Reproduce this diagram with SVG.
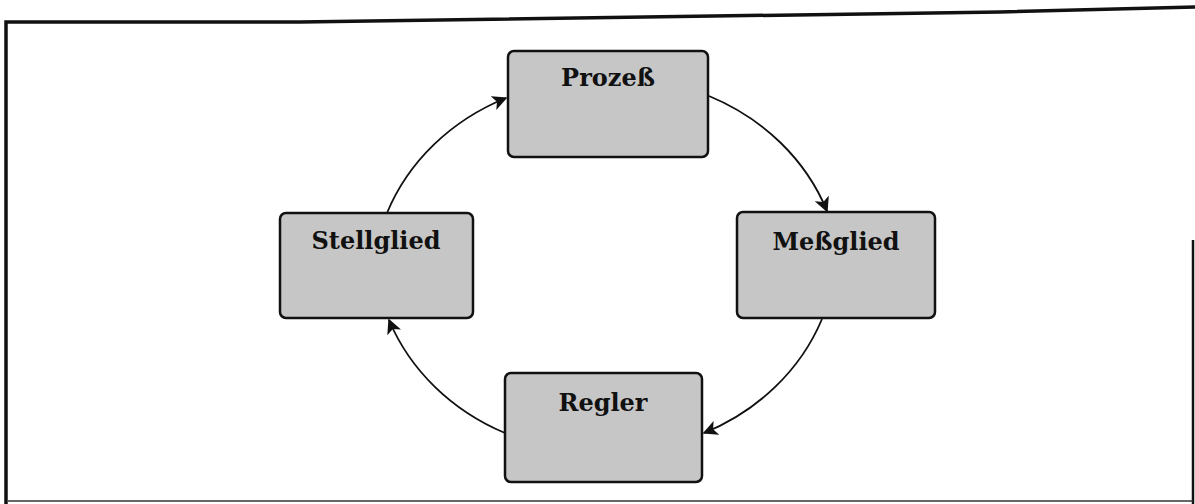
<svg xmlns="http://www.w3.org/2000/svg" width="1195" height="504" viewBox="0 0 1195 504">
<style>
.box{fill:#c6c6c6;stroke:#111;stroke-width:2.5}
.lbl{font-family:"DejaVu Serif","Liberation Serif",serif;font-weight:bold;font-size:24px;fill:#111;text-anchor:middle}
.arc{fill:none;stroke:#111;stroke-width:1.8}
.frame{fill:none;stroke:#111;stroke-width:3.5}
</style>
<defs>
<marker id="ah" viewBox="0 0 10 10" refX="9" refY="5" markerWidth="15" markerHeight="15" markerUnits="userSpaceOnUse" orient="auto">
<path d="M0,0 L10,5 L0,10 L2.5,5 Z" fill="#111"/>
</marker>
</defs>
<g id="frame">
<polyline class="frame" points="6,504 6,22 300,22 1000,12 1195,7"/>
<line x1="1193" y1="240" x2="1193" y2="504" stroke="#111" stroke-width="2.5"/>
<line x1="8" y1="501" x2="1193" y2="501" stroke="#333" stroke-width="1.5"/>
</g>
<g id="connectors">
<path class="arc" d="M387,213 A225,205 0 0 1 506,98" marker-end="url(#ah)"/>
<path class="arc" d="M709,96 A225,205 0 0 1 827,211" marker-end="url(#ah)"/>
<path class="arc" d="M822,319 A225,205 0 0 1 704,433" marker-end="url(#ah)"/>
<path class="arc" d="M505,433 A225,205 0 0 1 389,320" marker-end="url(#ah)"/>
</g>
<g id="prozess">
<rect class="box" x="508" y="51" width="200" height="106" rx="6"/>
<text class="lbl" x="608" y="86">Prozeß</text>
</g>
<g id="stellglied">
<rect class="box" x="280" y="213" width="193" height="105" rx="6"/>
<text class="lbl" x="376" y="249">Stellglied</text>
</g>
<g id="messglied">
<rect class="box" x="737" y="212" width="198" height="106" rx="6"/>
<text class="lbl" x="836" y="250">Meßglied</text>
</g>
<g id="regler">
<rect class="box" x="505" y="373" width="197" height="109" rx="6"/>
<text class="lbl" x="603" y="411">Regler</text>
</g>
</svg>
